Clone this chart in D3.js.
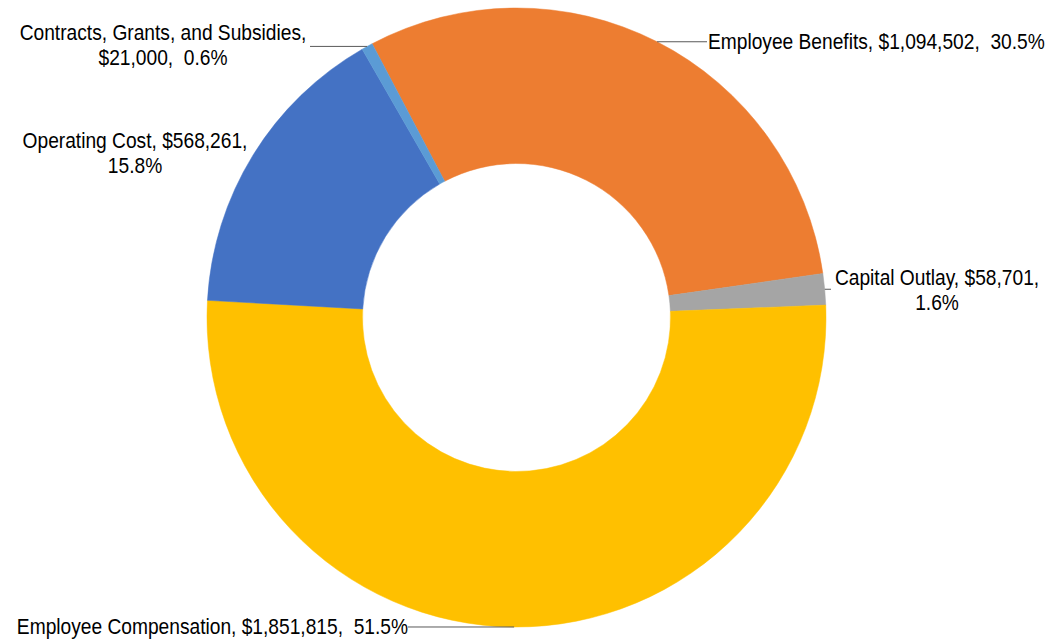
<!DOCTYPE html>
<html>
<head>
<meta charset="utf-8">
<script src="https://cdn.jsdelivr.net/npm/d3@7"></script>
<style>
  html, body { margin: 0; padding: 0; background: #fff; }
  svg { display: block; }
  text { font-family: "Liberation Sans", Arial, sans-serif; font-size: 22px; fill: #000; white-space: pre; }
</style>
</head>
<body>
<svg id="chart" width="1048" height="642"></svg>
<script>
// Data (clockwise order starting from Employee Benefits)
const categories = ["Employee Benefits", "Capital Outlay", "Employee Compensation", "Operating Cost", "Contracts, Grants, and Subsidies"];
const values = [1094502, 58701, 1851815, 568261, 21000];
const colors = ["#ED7D31", "#A5A5A5", "#FFC000", "#4472C4", "#5B9BD5"];

const W = 1048, H = 642;
const cx = 516.5, cy = 317.5, outerR = 309.5, innerR = 154;
const startDeg = -27.8;
const condense = 0.872; // narrow-font look

const svg = d3.select("#chart");
const g = svg.append("g").attr("transform", `translate(${cx},${cy})`);

const total = d3.sum(values);
const data = categories.map((c, i) => ({ name: c, value: values[i], color: colors[i], pct: values[i] / total }));

const start = startDeg * Math.PI / 180;
const pie = d3.pie().value(d => d.value).sort(null)
  .startAngle(start).endAngle(start + 2 * Math.PI);
const arcs = pie(data);
const arc = d3.arc().innerRadius(innerR).outerRadius(outerR);

g.selectAll("path.slice").data(arcs).join("path")
  .attr("class", "slice")
  .attr("d", arc)
  .attr("fill", d => d.data.color)
  .attr("stroke", d => d.data.color)
  .attr("stroke-width", 0.5);

const fmtV = d3.format(",");
const fmtP = d3.format(".1%");

// label layout: lines, anchor, x, first baseline, leader end x
const layout = {
  "Employee Benefits": { lines: d => [`${d.name}, $${fmtV(d.value)},  ${fmtP(d.pct)}`], anchor: "start", x: 708, y: 49, leadX: 707 },
  "Capital Outlay": { lines: d => [`${d.name}, $${fmtV(d.value)},`, fmtP(d.pct)], anchor: "middle", x: 937, y: 285, leadX: 831 },
  "Employee Compensation": { lines: d => [`${d.name}, $${fmtV(d.value)},  ${fmtP(d.pct)}`], anchor: "end", x: 408, y: 634, leadX: 408 },
  "Operating Cost": { lines: d => [`${d.name}, $${fmtV(d.value)},`, fmtP(d.pct)], anchor: "middle", x: 135, y: 148, leadX: null },
  "Contracts, Grants, and Subsidies": { lines: d => [`${d.name},`, `$${fmtV(d.value)},  ${fmtP(d.pct)}`], anchor: "middle", x: 163, y: 40, leadX: 310 }
};

const lineH = 25;
arcs.forEach(a => {
  const L = layout[a.data.name];
  const mid = (a.startAngle + a.endAngle) / 2;
  if (L.leadX !== null) {
    const px = cx + outerR * Math.sin(mid), py = cy - outerR * Math.cos(mid);
    svg.append("path")
      .attr("d", d3.line()([[px, py], [L.leadX, py]]))
      .attr("stroke", "#595959").attr("stroke-width", 1).attr("fill", "none");
  }
  const t = svg.append("g")
    .attr("transform", `translate(${L.x},${L.y}) scale(${condense},1)`)
    .append("text").attr("text-anchor", L.anchor);
  L.lines(a.data).forEach((s, i) => {
    t.append("tspan").attr("x", 0).attr("y", i * lineH).text(s);
  });
});
</script>
</body>
</html>
